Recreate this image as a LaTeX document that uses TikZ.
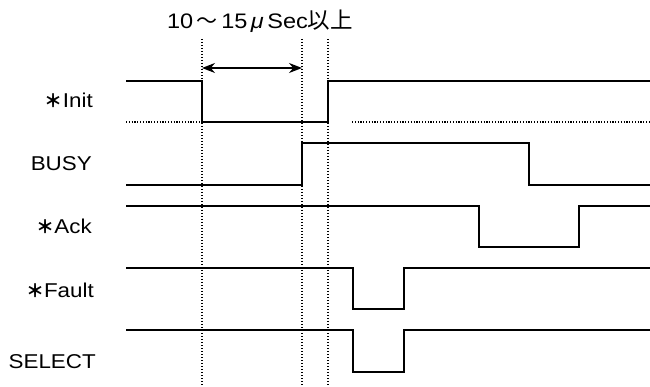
\documentclass[tikz,border=0pt]{standalone}
\usepackage{fontspec}
\setmainfont{Liberation Sans}[FakeStretch=1.12]
\newfontfamily\cjk{Noto Sans CJK JP}
\usetikzlibrary{arrows.meta, positioning}

\newcommand{\negmark}{{\cjk\bfseries\fontsize{18}{18}\selectfont ＊}}

\begin{document}
\begin{tikzpicture}[
    x=1pt, y=-1pt,
    sig_label/.style={anchor=base east, inner sep=0pt, font=\fontsize{20}{20}\selectfont},
    title_text/.style={anchor=base, inner sep=0pt, font=\fontsize{21}{21}\selectfont},
    signal/.style={draw=black, line width=1.3pt},
    undefined_level/.style={draw=black, line width=1.1pt, dash pattern=on 1.1pt off 1.7pt},
    guide/.style={draw=black, line width=1.2pt, dash pattern=on 1.2pt off 1.8pt},
    span/.style={draw=black, line width=1.3pt, {Stealth[length=13pt,width=10pt]}-{Stealth[length=13pt,width=10pt]}},
]
    \useasboundingbox (0,0) rectangle (650,387);

    % labels
    \node(title)[title_text] at (260, 29) {10\,{\cjk 〜}\,15\,{\itshape μ}\,Sec{\cjk\fontsize{22.5}{22.5}\selectfont 以上}};
    \node(init_label)[sig_label] at (93, 108) {\negmark Init};
    \node(busy_label)[sig_label] at (92, 171) {BUSY};
    \node(ack_label)[sig_label] at (92, 234) {\negmark Ack};
    \node(fault_label)[sig_label] at (94, 297) {\negmark Fault};
    \node(select_label)[sig_label] at (96, 368) {SELECT};

    % timing guides
    \coordinate(t0_top) at (202, 39);
    \coordinate(t0_bot) at (202, 387);
    \coordinate(t1_top) at (302, 39);
    \coordinate(t1_bot) at (302, 387);
    \coordinate(t2_top) at (328, 39);
    \coordinate(t2_bot) at (328, 387);
    \draw[guide] (t0_top) -- (t0_bot);
    \draw[guide] (t1_top) -- (t1_bot);
    \draw[guide] (t2_top) -- (t2_bot);

    \coordinate(span_start) at (202, 68);
    \coordinate(span_end) at (302, 68);
    \draw[span] (span_start) -- (span_end);

    % waveforms
    \draw[signal] (126, 81) -- (202, 81) -- (202, 122) -- (328, 122) -- (328, 81) -- (650, 81);
    \draw[undefined_level] (126, 122) -- (202, 122);
    \draw[undefined_level] (352, 122) -- (650, 122);

    \draw[signal] (126, 185) -- (302, 185) -- (302, 143) -- (529, 143) -- (529, 185) -- (650, 185);

    \draw[signal] (126, 206) -- (479, 206) -- (479, 247) -- (579, 247) -- (579, 206) -- (650, 206);

    \draw[signal] (126, 268) -- (353, 268) -- (353, 309) -- (404, 309) -- (404, 268) -- (650, 268);

    \draw[signal] (126, 330) -- (353, 330) -- (353, 372) -- (404, 372) -- (404, 330) -- (650, 330);
\end{tikzpicture}
\end{document}
